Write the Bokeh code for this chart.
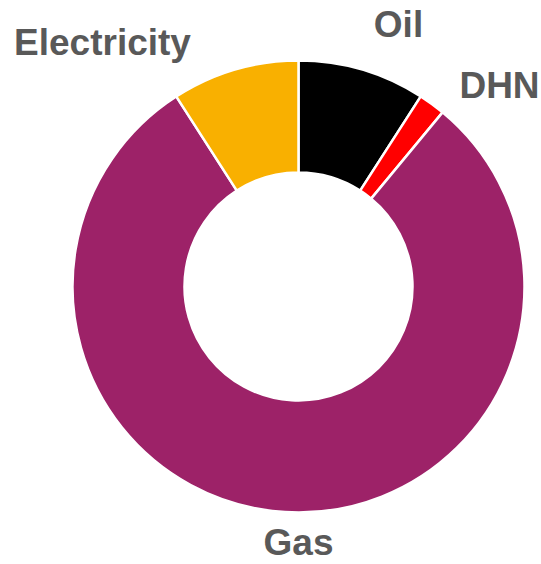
import math
from bokeh.plotting import figure
from bokeh.models import ColumnDataSource
from bokeh.core.properties import value
from bokeh.embed import file_html
from bokeh.resources import INLINE

# Data (clockwise from 12 o'clock)
categories = ["Oil", "DHN", "Gas", "Electricity"]
shares = [9.1, 1.9, 79.9, 9.1]
colors = ["#000000", "#FF0000", "#9D2268", "#F9B000"]

# Layout (pixel-based coordinates, y measured from bottom)
W, H = 541, 564
cx, cy = 298, H - 286
r_in, r_out = 114, 226
label_dy = 12
label_pos = {"Oil": (398, H - 36), "DHN": (499, H - 97),
             "Gas": (298, H - 554), "Electricity": (102, H - 54)}

total = sum(shares)
starts, ends = [], []
a = math.pi / 2
for s in shares:
    starts.append(a)
    a -= 2 * math.pi * s / total
    ends.append(a)

src = ColumnDataSource(dict(cat=categories, share=shares, color=colors,
                            start=starts, end=ends,
                            x=[cx] * len(shares), y=[cy] * len(shares)))

p = figure(width=W, height=H, x_range=(0, W), y_range=(0, H),
           output_backend="svg", toolbar_location=None, min_border=0)
p.axis.visible = False
p.grid.visible = False
p.outline_line_color = None
p.background_fill_color = "white"
p.border_fill_color = "white"

p.annular_wedge(x="x", y="y", inner_radius=r_in, outer_radius=r_out,
                inner_radius_units="screen", outer_radius_units="screen",
                start_angle="start", end_angle="end", direction="clock",
                fill_color="color", line_color="white", line_width=2.5, source=src)

lsrc = ColumnDataSource(dict(x=[label_pos[c][0] for c in categories],
                             y=[label_pos[c][1] + label_dy for c in categories],
                             t=categories))
p.text(x="x", y="y", text="t", source=lsrc, text_align="center",
       text_baseline="alphabetic", text_font=value("Liberation Sans"),
       text_font_style="bold", text_font_size="37px", text_color="#595959")

open("out.html", "w").write(file_html(p, INLINE))
